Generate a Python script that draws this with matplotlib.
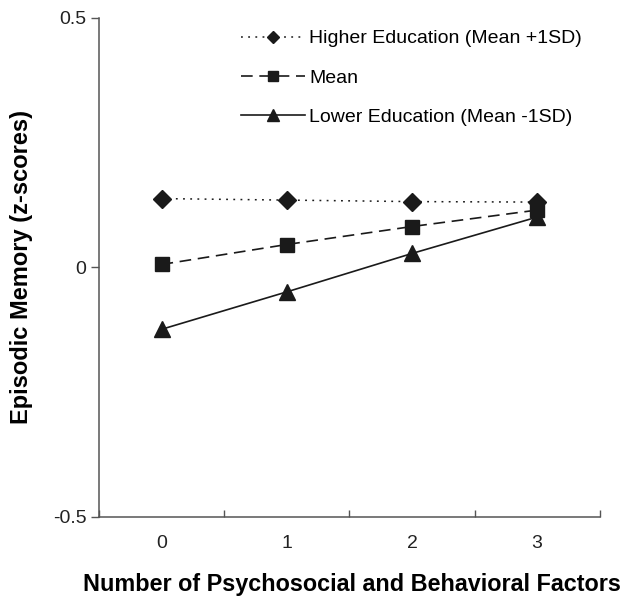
import matplotlib
matplotlib.use("Agg")
import matplotlib.pyplot as plt
from matplotlib.ticker import FixedLocator

plt.rcParams['font.family'] = ['Liberation Sans', 'DejaVu Sans']

categories = ["0", "1", "2", "3"]
higher = [0.138, 0.135, 0.132, 0.131]
mean = [0.006, 0.046, 0.082, 0.115]
lower = [-0.124, -0.049, 0.028, 0.101]
series_labels = ["Higher Education (Mean +1SD)", "Mean", "Lower Education (Mean -1SD)"]
yticks = [-0.5, 0, 0.5]
ytick_labels = ["-0.5", "0", "0.5"]

fig = plt.figure(figsize=(6.3, 5.99), dpi=100)
ax = fig.add_axes([0.157, 0.137, 0.795, 0.833])
x = list(range(len(categories)))
c = "#1a1a1a"
ax.plot(x, higher, linestyle=(0, (1.2, 3.5)), color=c, lw=1.1, marker="D", ms=9, label=series_labels[0])
ax.plot(x, mean, linestyle=(0, (7, 4)), color=c, lw=1.2, marker="s", ms=10.5, label=series_labels[1])
ax.plot(x, lower, linestyle="-", color=c, lw=1.2, marker="^", ms=12, label=series_labels[2])

ax.set_xlim(-0.5, len(categories) - 0.5)
ax.set_ylim(-0.5, 0.5)
ax.set_xticks(x)
ax.set_xticklabels(categories)
ax.xaxis.set_minor_locator(FixedLocator([i - 0.5 for i in range(len(categories) + 1)]))
ax.tick_params(axis="x", which="major", length=0, pad=13, labelsize=14, labelcolor="#222")
ax.tick_params(axis="x", which="minor", length=5, direction="in", color="#555", width=1)
ax.set_yticks(yticks)
ax.set_yticklabels(ytick_labels)
ax.tick_params(axis="y", length=6, direction="out", color="#555", width=1, labelsize=14, labelcolor="#222", pad=3)
for s in ["top", "right"]:
    ax.spines[s].set_visible(False)
for s in ["left", "bottom"]:
    ax.spines[s].set_color("#555")
    ax.spines[s].set_linewidth(1.1)

ax.set_xlabel("Number of Psychosocial and Behavioral Factors", fontsize=16.8, fontweight="bold")
ax.set_ylabel("Episodic Memory (z-scores)", fontsize=17, fontweight="bold", labelpad=14)
ax.xaxis.set_label_coords(0.506, -0.112)

leg = ax.legend(loc="upper right", bbox_to_anchor=(0.98, 0.992), frameon=False, fontsize=14,
                handlelength=3.3, labelspacing=1.11, handletextpad=0.2, borderaxespad=0.0, markerscale=0.7)

fig.savefig("out.png", dpi=100)
